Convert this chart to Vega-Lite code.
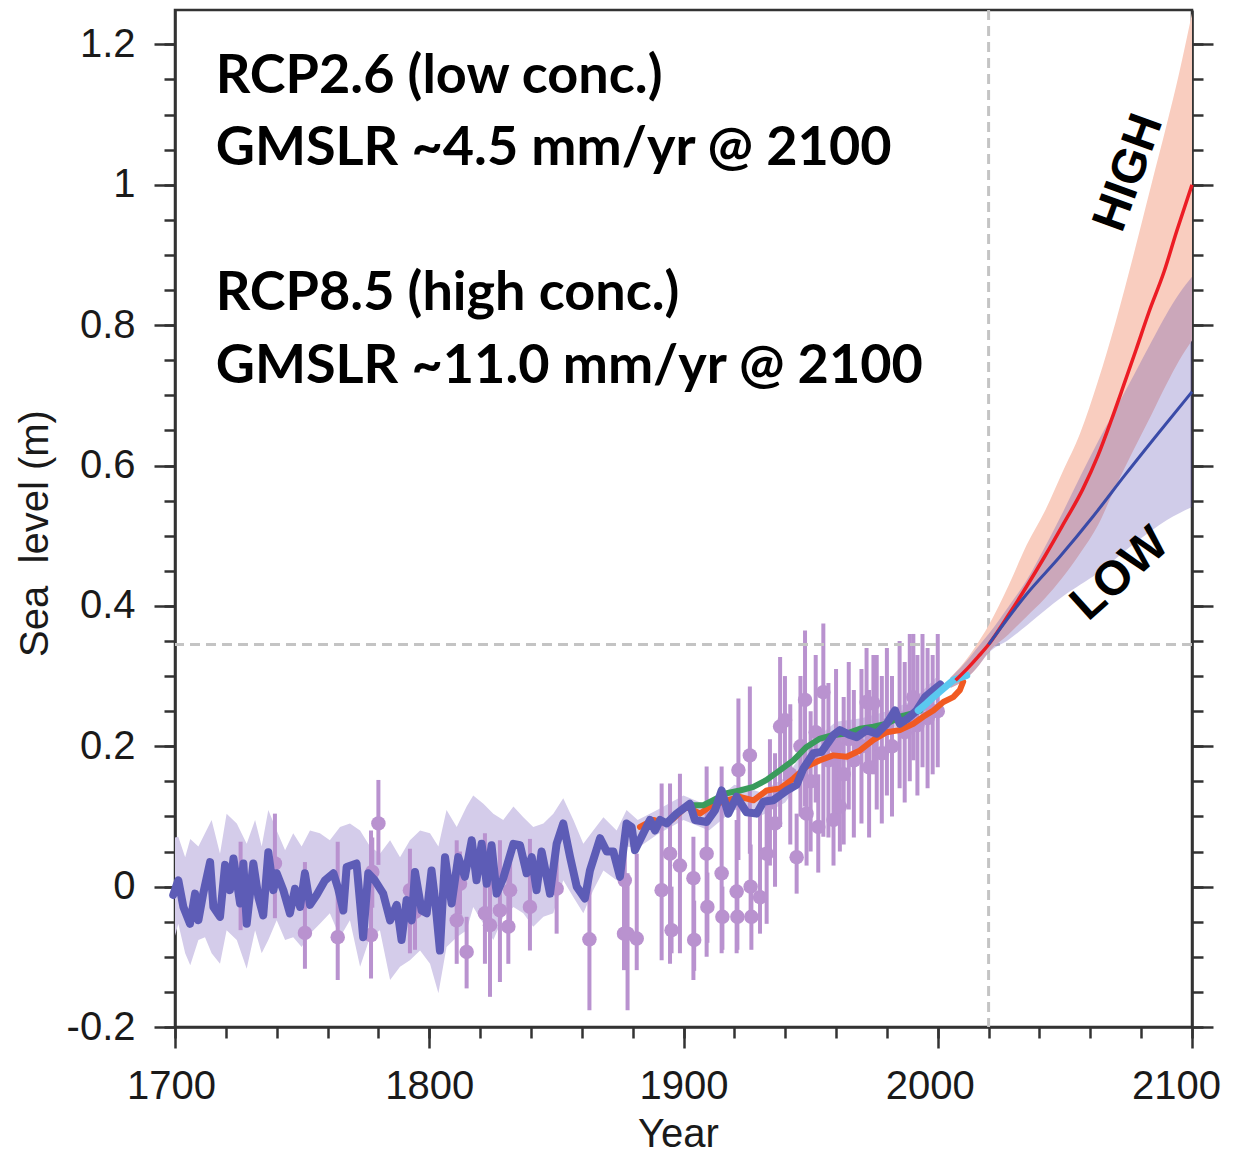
{
  "$schema": "https://vega.github.io/schema/vega-lite/v6.json",
  "autosize": {"type": "none"},
  "width": 1017,
  "height": 1017,
  "padding": {"left": 175, "top": 10, "right": 41, "bottom": 127},
  "background": "white",
  "config": {
    "view": {"stroke": "#333333", "strokeWidth": 2.5},
    "axis": {
      "grid": false, "domainColor": "#333333", "domainWidth": 2.6, "tickColor": "#333333", "tickWidth": 2.5,
      "labelFont": "Liberation Sans", "labelFontSize": 40, "labelColor": "#1a1a1a",
      "titleFont": "Liberation Sans", "titleFontSize": 40, "titleFontWeight": "normal", "titleColor": "#1a1a1a",
      "labelFlush": false, "labelOverlap": false, "labelBound": false
    }
  },
  "datasets": {
    "band": [
      {"year": 1700, "lo": -0.07, "hi": 0.07},
      {"year": 1701.3, "lo": -0.053, "hi": 0.071},
      {"year": 1704, "lo": -0.095, "hi": 0.042},
      {"year": 1706, "lo": -0.112, "hi": 0.068},
      {"year": 1709.2, "lo": -0.076, "hi": 0.057},
      {"year": 1711.8, "lo": -0.072, "hi": 0.076},
      {"year": 1714.4, "lo": -0.095, "hi": 0.095},
      {"year": 1717.7, "lo": -0.11, "hi": 0.047},
      {"year": 1720.3, "lo": -0.062, "hi": 0.104},
      {"year": 1724.3, "lo": -0.076, "hi": 0.09},
      {"year": 1728.2, "lo": -0.117, "hi": 0.061},
      {"year": 1731.5, "lo": -0.062, "hi": 0.095},
      {"year": 1734.1, "lo": -0.095, "hi": 0.057},
      {"year": 1736.7, "lo": -0.076, "hi": 0.109},
      {"year": 1740, "lo": -0.048, "hi": 0.08},
      {"year": 1743.3, "lo": -0.076, "hi": 0.052},
      {"year": 1746.5, "lo": -0.072, "hi": 0.076},
      {"year": 1749.8, "lo": -0.086, "hi": 0.057},
      {"year": 1753.1, "lo": -0.067, "hi": 0.08},
      {"year": 1757, "lo": -0.053, "hi": 0.076},
      {"year": 1760.9, "lo": -0.038, "hi": 0.066},
      {"year": 1764.9, "lo": -0.072, "hi": 0.085},
      {"year": 1768.8, "lo": -0.048, "hi": 0.09},
      {"year": 1772.8, "lo": -0.114, "hi": 0.08},
      {"year": 1776.7, "lo": -0.072, "hi": 0.057},
      {"year": 1780.6, "lo": -0.062, "hi": 0.047},
      {"year": 1784.6, "lo": -0.133, "hi": 0.066},
      {"year": 1788.5, "lo": -0.114, "hi": 0.042},
      {"year": 1792.4, "lo": -0.105, "hi": 0.066},
      {"year": 1796.4, "lo": -0.091, "hi": 0.08},
      {"year": 1800.3, "lo": -0.11, "hi": 0.076},
      {"year": 1803.6, "lo": -0.152, "hi": 0.057},
      {"year": 1806.8, "lo": -0.086, "hi": 0.109},
      {"year": 1810.8, "lo": -0.072, "hi": 0.085},
      {"year": 1814.7, "lo": -0.062, "hi": 0.114},
      {"year": 1817.3, "lo": -0.029, "hi": 0.13},
      {"year": 1821.3, "lo": -0.053, "hi": 0.118},
      {"year": 1825.2, "lo": -0.076, "hi": 0.104},
      {"year": 1829.1, "lo": -0.043, "hi": 0.095},
      {"year": 1833.1, "lo": -0.029, "hi": 0.114},
      {"year": 1837, "lo": -0.038, "hi": 0.099},
      {"year": 1840.9, "lo": -0.057, "hi": 0.085},
      {"year": 1844.9, "lo": -0.043, "hi": 0.09},
      {"year": 1848.8, "lo": -0.038, "hi": 0.104},
      {"year": 1852.7, "lo": 0.009, "hi": 0.126},
      {"year": 1856.7, "lo": -0.015, "hi": 0.095},
      {"year": 1860.6, "lo": -0.038, "hi": 0.061},
      {"year": 1864.5, "lo": -0.005, "hi": 0.08},
      {"year": 1868.5, "lo": 0.023, "hi": 0.099},
      {"year": 1873.7, "lo": 0.009, "hi": 0.08},
      {"year": 1877.6, "lo": 0.057, "hi": 0.109},
      {"year": 1882, "lo": 0.055, "hi": 0.095},
      {"year": 1890, "lo": 0.075, "hi": 0.11},
      {"year": 1900, "lo": 0.095, "hi": 0.13},
      {"year": 1910, "lo": 0.08, "hi": 0.115},
      {"year": 1920, "lo": 0.11, "hi": 0.145},
      {"year": 1930, "lo": 0.1, "hi": 0.135},
      {"year": 1940, "lo": 0.12, "hi": 0.155},
      {"year": 1950, "lo": 0.17, "hi": 0.205},
      {"year": 1960, "lo": 0.2, "hi": 0.235},
      {"year": 1970, "lo": 0.205, "hi": 0.24},
      {"year": 1980, "lo": 0.215, "hi": 0.25},
      {"year": 1990, "lo": 0.235, "hi": 0.265},
      {"year": 2000, "lo": 0.27, "hi": 0.3}
    ],
    "tg": [
      {"year": 1725.8, "v": 0.009, "lo": -0.062, "hi": 0.064},
      {"year": 1739.3, "v": 0.033, "lo": -0.045, "hi": 0.104},
      {"year": 1751.1, "v": -0.066, "lo": -0.117, "hi": 0.035},
      {"year": 1764.0, "v": -0.072, "lo": -0.133, "hi": 0.064},
      {"year": 1777.1, "v": -0.069, "lo": -0.131, "hi": 0.08},
      {"year": 1777.6, "v": 0.021, "lo": -0.03, "hi": 0.07},
      {"year": 1780.0, "v": 0.09, "lo": 0.031, "hi": 0.152},
      {"year": 1792.4, "v": -0.005, "lo": -0.095, "hi": 0.054},
      {"year": 1794.4, "v": -0.036, "lo": -0.09, "hi": 0.02},
      {"year": 1810.8, "v": -0.048, "lo": -0.11, "hi": 0.066},
      {"year": 1812.1, "v": 0.004, "lo": -0.04, "hi": 0.05},
      {"year": 1814.7, "v": -0.093, "lo": -0.145, "hi": -0.043},
      {"year": 1821.9, "v": -0.038, "lo": -0.11, "hi": 0.076},
      {"year": 1823.9, "v": -0.055, "lo": -0.157, "hi": 0.019},
      {"year": 1827.8, "v": -0.034, "lo": -0.136, "hi": 0.066},
      {"year": 1831.1, "v": -0.057, "lo": -0.11, "hi": 0.045},
      {"year": 1831.8, "v": -0.005, "lo": -0.05, "hi": 0.04},
      {"year": 1839.6, "v": -0.029, "lo": -0.091, "hi": 0.068},
      {"year": 1850.1, "v": -0.003, "lo": -0.067, "hi": 0.057},
      {"year": 1863.0, "v": -0.075, "lo": -0.176, "hi": 0.014},
      {"year": 1876.6, "v": -0.067, "lo": -0.119, "hi": 0.009},
      {"year": 1876.9, "v": 0.009, "lo": -0.06, "hi": 0.071},
      {"year": 1878.0, "v": -0.067, "lo": -0.176, "hi": 0.019},
      {"year": 1881.6, "v": -0.074, "lo": -0.119, "hi": 0.047},
      {"year": 1891.4, "v": -0.005, "lo": -0.105, "hi": 0.147},
      {"year": 1894.7, "v": 0.047, "lo": -0.11, "hi": 0.147},
      {"year": 1895.3, "v": -0.062, "lo": -0.095, "hi": 0.0},
      {"year": 1898.6, "v": 0.03, "lo": -0.095, "hi": 0.161},
      {"year": 1903.9, "v": 0.012, "lo": -0.133, "hi": 0.071},
      {"year": 1904.2, "v": -0.076, "lo": -0.12, "hi": -0.02},
      {"year": 1909.1, "v": 0.047, "lo": -0.1, "hi": 0.171},
      {"year": 1909.4, "v": -0.029, "lo": -0.08, "hi": 0.02},
      {"year": 1915.0, "v": 0.019, "lo": -0.095, "hi": 0.171},
      {"year": 1915.3, "v": -0.043, "lo": -0.09, "hi": 0.0},
      {"year": 1920.9, "v": -0.007, "lo": -0.095, "hi": 0.095},
      {"year": 1921.2, "v": -0.043, "lo": -0.09, "hi": 0.0},
      {"year": 1921.6, "v": 0.166, "lo": 0.038, "hi": 0.268},
      {"year": 1926.1, "v": 0.187, "lo": 0.047, "hi": 0.285},
      {"year": 1926.4, "v": 0.0, "lo": -0.05, "hi": 0.06},
      {"year": 1926.7, "v": -0.043, "lo": -0.09, "hi": 0.0},
      {"year": 1930.1, "v": -0.015, "lo": -0.067, "hi": 0.114},
      {"year": 1932.7, "v": 0.047, "lo": -0.053, "hi": 0.114},
      {"year": 1934, "v": 0.12, "lo": 0.03, "hi": 0.21},
      {"year": 1936, "v": 0.09, "lo": 0.0, "hi": 0.19},
      {"year": 1938.0, "v": 0.228, "lo": 0.085, "hi": 0.327},
      {"year": 1939.9, "v": 0.237, "lo": 0.15, "hi": 0.3},
      {"year": 1942, "v": 0.16, "lo": 0.06, "hi": 0.26},
      {"year": 1944.5, "v": 0.042, "lo": -0.01, "hi": 0.104},
      {"year": 1946, "v": 0.2, "lo": 0.1, "hi": 0.3},
      {"year": 1947.8, "v": 0.266, "lo": 0.114, "hi": 0.365},
      {"year": 1948.4, "v": 0.104, "lo": 0.03, "hi": 0.18},
      {"year": 1950, "v": 0.15, "lo": 0.05, "hi": 0.25},
      {"year": 1952, "v": 0.22, "lo": 0.12, "hi": 0.33},
      {"year": 1953.0, "v": 0.085, "lo": 0.02, "hi": 0.16},
      {"year": 1955.0, "v": 0.277, "lo": 0.071, "hi": 0.375},
      {"year": 1957, "v": 0.18, "lo": 0.07, "hi": 0.29},
      {"year": 1959.0, "v": 0.095, "lo": 0.03, "hi": 0.2},
      {"year": 1960, "v": 0.2, "lo": 0.1, "hi": 0.31},
      {"year": 1961.5, "v": 0.114, "lo": 0.05, "hi": 0.22},
      {"year": 1963, "v": 0.16, "lo": 0.06, "hi": 0.27},
      {"year": 1965, "v": 0.21, "lo": 0.11, "hi": 0.32},
      {"year": 1967, "v": 0.18, "lo": 0.07, "hi": 0.28},
      {"year": 1970, "v": 0.2, "lo": 0.09, "hi": 0.31},
      {"year": 1972.0, "v": 0.263, "lo": 0.17, "hi": 0.34},
      {"year": 1973, "v": 0.17, "lo": 0.07, "hi": 0.28},
      {"year": 1974.7, "v": 0.261, "lo": 0.16, "hi": 0.33},
      {"year": 1976, "v": 0.22, "lo": 0.11, "hi": 0.33},
      {"year": 1978, "v": 0.19, "lo": 0.09, "hi": 0.3},
      {"year": 1980, "v": 0.23, "lo": 0.13, "hi": 0.34},
      {"year": 1982, "v": 0.2, "lo": 0.1, "hi": 0.3},
      {"year": 1985, "v": 0.24, "lo": 0.14, "hi": 0.35},
      {"year": 1987, "v": 0.22, "lo": 0.12, "hi": 0.32},
      {"year": 1989, "v": 0.25, "lo": 0.15, "hi": 0.36},
      {"year": 1990.4, "v": 0.27, "lo": 0.18, "hi": 0.36},
      {"year": 1992, "v": 0.23, "lo": 0.13, "hi": 0.33},
      {"year": 1994, "v": 0.26, "lo": 0.17, "hi": 0.36},
      {"year": 1996, "v": 0.24, "lo": 0.14, "hi": 0.34},
      {"year": 1998, "v": 0.25, "lo": 0.16, "hi": 0.33},
      {"year": 2000, "v": 0.25, "lo": 0.17, "hi": 0.36}
    ],
    "recon": [
      {"year": 1699.3, "v": -0.012}, {"year": 1701.3, "v": 0.009}, {"year": 1703.3, "v": -0.029}, {"year": 1705.9, "v": -0.053},
      {"year": 1707.9, "v": -0.01}, {"year": 1709.2, "v": -0.048}, {"year": 1711.1, "v": -0.01}, {"year": 1713.8, "v": 0.035},
      {"year": 1715.1, "v": -0.029}, {"year": 1717.7, "v": -0.043}, {"year": 1719.7, "v": 0.031}, {"year": 1721.6, "v": -0.005},
      {"year": 1723, "v": 0.04}, {"year": 1725.6, "v": -0.024}, {"year": 1726.9, "v": 0.033}, {"year": 1728.2, "v": -0.053},
      {"year": 1730.8, "v": 0.033}, {"year": 1732.8, "v": -0.015}, {"year": 1734.7, "v": -0.041}, {"year": 1736.7, "v": 0.049},
      {"year": 1738.7, "v": -0.005}, {"year": 1740, "v": 0.019}, {"year": 1742.6, "v": -0.005}, {"year": 1745.2, "v": -0.038},
      {"year": 1747.2, "v": -0.003}, {"year": 1749.2, "v": -0.029}, {"year": 1751.1, "v": 0.019}, {"year": 1753.1, "v": -0.026},
      {"year": 1755.7, "v": -0.012}, {"year": 1759, "v": 0.009}, {"year": 1762.3, "v": 0.019}, {"year": 1764.2, "v": -0.003},
      {"year": 1766.2, "v": -0.034}, {"year": 1767.5, "v": 0.028}, {"year": 1771.4, "v": 0.033}, {"year": 1774, "v": -0.072},
      {"year": 1776, "v": 0.019}, {"year": 1778.6, "v": 0.009}, {"year": 1781.9, "v": -0.01}, {"year": 1784.6, "v": -0.048},
      {"year": 1787.2, "v": -0.026}, {"year": 1789.1, "v": -0.076}, {"year": 1791.1, "v": -0.019}, {"year": 1793.1, "v": -0.048},
      {"year": 1794.4, "v": 0.021}, {"year": 1797, "v": -0.034}, {"year": 1799, "v": -0.038}, {"year": 1800.9, "v": 0.023},
      {"year": 1802.3, "v": -0.019}, {"year": 1804.2, "v": -0.091}, {"year": 1806.2, "v": 0.042}, {"year": 1808.8, "v": -0.024},
      {"year": 1811.4, "v": 0.042}, {"year": 1814, "v": 0.014}, {"year": 1816.7, "v": 0.066}, {"year": 1818.6, "v": 0.009},
      {"year": 1820.6, "v": 0.061}, {"year": 1822.6, "v": 0.004}, {"year": 1824.5, "v": 0.059}, {"year": 1826.5, "v": -0.01},
      {"year": 1829.1, "v": 0.012}, {"year": 1833.1, "v": 0.061}, {"year": 1835.7, "v": 0.059}, {"year": 1838.3, "v": 0.019},
      {"year": 1840.3, "v": 0.042}, {"year": 1842.2, "v": -0.005}, {"year": 1844.2, "v": 0.05}, {"year": 1847.5, "v": -0.01},
      {"year": 1850.1, "v": 0.061}, {"year": 1852.7, "v": 0.09}, {"year": 1855.4, "v": 0.042}, {"year": 1858, "v": 0.0},
      {"year": 1861.2, "v": -0.017}, {"year": 1863.2, "v": 0.023}, {"year": 1867.2, "v": 0.069}, {"year": 1869.8, "v": 0.05},
      {"year": 1872.4, "v": 0.05}, {"year": 1875, "v": 0.014}, {"year": 1877.6, "v": 0.09}, {"year": 1879.6, "v": 0.085},
      {"year": 1880.9, "v": 0.052}, {"year": 1884.2, "v": 0.076}, {"year": 1886.8, "v": 0.095}, {"year": 1888.8, "v": 0.08},
      {"year": 1890.8, "v": 0.095}, {"year": 1893.4, "v": 0.09}, {"year": 1897.3, "v": 0.104}, {"year": 1902.5, "v": 0.118},
      {"year": 1904.5, "v": 0.095}, {"year": 1909.1, "v": 0.092}, {"year": 1912.4, "v": 0.109}, {"year": 1915, "v": 0.137},
      {"year": 1917.6, "v": 0.104}, {"year": 1920.9, "v": 0.128}, {"year": 1924.8, "v": 0.106}, {"year": 1928.8, "v": 0.104},
      {"year": 1931.4, "v": 0.121}, {"year": 1935.3, "v": 0.123}, {"year": 1940.6, "v": 0.137}, {"year": 1944.5, "v": 0.145},
      {"year": 1947.1, "v": 0.168}, {"year": 1951.1, "v": 0.19}, {"year": 1954.3, "v": 0.192}, {"year": 1959, "v": 0.216},
      {"year": 1961.5, "v": 0.223}, {"year": 1965.5, "v": 0.216}, {"year": 1968.1, "v": 0.213}, {"year": 1972, "v": 0.223},
      {"year": 1976, "v": 0.218}, {"year": 1979.9, "v": 0.232}, {"year": 1983.2, "v": 0.251}, {"year": 1985.1, "v": 0.232},
      {"year": 1988.4, "v": 0.24}, {"year": 1991.7, "v": 0.251}, {"year": 1995, "v": 0.27}, {"year": 1998.3, "v": 0.28},
      {"year": 2001, "v": 0.288}
    ],
    "orange": [
      {"year": 1882.9, "v": 0.085}, {"year": 1888.1, "v": 0.095}, {"year": 1893.4, "v": 0.09}, {"year": 1896, "v": 0.097},
      {"year": 1901.2, "v": 0.114}, {"year": 1906.5, "v": 0.104}, {"year": 1910.4, "v": 0.114}, {"year": 1917, "v": 0.123},
      {"year": 1922.2, "v": 0.128}, {"year": 1927.5, "v": 0.123}, {"year": 1932.7, "v": 0.137}, {"year": 1938, "v": 0.14},
      {"year": 1943.2, "v": 0.154}, {"year": 1948.4, "v": 0.171}, {"year": 1953.7, "v": 0.18}, {"year": 1958.9, "v": 0.187},
      {"year": 1964.2, "v": 0.185}, {"year": 1969.4, "v": 0.194}, {"year": 1974.7, "v": 0.209}, {"year": 1979.9, "v": 0.22},
      {"year": 1985.1, "v": 0.223}, {"year": 1990.4, "v": 0.232}, {"year": 1994.3, "v": 0.242}, {"year": 1998.3, "v": 0.251},
      {"year": 2002.2, "v": 0.263}, {"year": 2006.1, "v": 0.27}, {"year": 2008.7, "v": 0.28}, {"year": 2010, "v": 0.292}
    ],
    "green": [
      {"year": 1902.5, "v": 0.116}, {"year": 1907.8, "v": 0.116}, {"year": 1911.7, "v": 0.123}, {"year": 1917, "v": 0.133},
      {"year": 1922.2, "v": 0.137}, {"year": 1927.5, "v": 0.142}, {"year": 1932.7, "v": 0.152}, {"year": 1938, "v": 0.166},
      {"year": 1943.2, "v": 0.18}, {"year": 1948.4, "v": 0.199}, {"year": 1953.7, "v": 0.211}, {"year": 1959, "v": 0.216},
      {"year": 1964.2, "v": 0.218}, {"year": 1969.4, "v": 0.225}, {"year": 1974.7, "v": 0.228}, {"year": 1979.9, "v": 0.232},
      {"year": 1985.1, "v": 0.242}, {"year": 1990.4, "v": 0.247}, {"year": 1993, "v": 0.251}
    ],
    "cyan": [
      {"year": 1992.3, "v": 0.251}, {"year": 1995.6, "v": 0.261}, {"year": 1998.3, "v": 0.27}, {"year": 2002.2, "v": 0.282},
      {"year": 2006.1, "v": 0.294}, {"year": 2011.4, "v": 0.301}
    ],
    "redband": [
      {"year": 2005, "lo": 0.283, "hi": 0.298}, {"year": 2010, "lo": 0.293, "hi": 0.318}, {"year": 2015, "lo": 0.31, "hi": 0.343},
      {"year": 2020, "lo": 0.334, "hi": 0.372}, {"year": 2028, "lo": 0.36, "hi": 0.43}, {"year": 2035, "lo": 0.385, "hi": 0.487},
      {"year": 2042, "lo": 0.41, "hi": 0.534}, {"year": 2049, "lo": 0.44, "hi": 0.59}, {"year": 2056, "lo": 0.475, "hi": 0.646},
      {"year": 2063, "lo": 0.515, "hi": 0.72}, {"year": 2070, "lo": 0.57, "hi": 0.805}, {"year": 2077, "lo": 0.622, "hi": 0.9},
      {"year": 2084, "lo": 0.672, "hi": 1.0}, {"year": 2090, "lo": 0.716, "hi": 1.085}, {"year": 2095, "lo": 0.75, "hi": 1.16},
      {"year": 2100, "lo": 0.778, "hi": 1.244}
    ],
    "blueband": [
      {"year": 2005, "lo": 0.283, "hi": 0.298}, {"year": 2010, "lo": 0.293, "hi": 0.316}, {"year": 2015, "lo": 0.31, "hi": 0.338},
      {"year": 2020, "lo": 0.333, "hi": 0.36}, {"year": 2028, "lo": 0.352, "hi": 0.4}, {"year": 2035, "lo": 0.372, "hi": 0.437},
      {"year": 2042, "lo": 0.393, "hi": 0.483}, {"year": 2049, "lo": 0.413, "hi": 0.532}, {"year": 2056, "lo": 0.43, "hi": 0.584},
      {"year": 2063, "lo": 0.447, "hi": 0.634}, {"year": 2070, "lo": 0.467, "hi": 0.681}, {"year": 2077, "lo": 0.488, "hi": 0.728},
      {"year": 2084, "lo": 0.507, "hi": 0.776}, {"year": 2090, "lo": 0.522, "hi": 0.816}, {"year": 2095, "lo": 0.532, "hi": 0.845},
      {"year": 2100, "lo": 0.541, "hi": 0.869}
    ],
    "redline": [
      {"year": 2007, "v": 0.294}, {"year": 2012, "v": 0.312}, {"year": 2016, "v": 0.328}, {"year": 2020, "v": 0.345},
      {"year": 2028, "v": 0.388}, {"year": 2035, "v": 0.428}, {"year": 2042, "v": 0.47}, {"year": 2049, "v": 0.514},
      {"year": 2057, "v": 0.566}, {"year": 2063, "v": 0.614}, {"year": 2068, "v": 0.662}, {"year": 2073, "v": 0.713},
      {"year": 2078, "v": 0.765}, {"year": 2083, "v": 0.818}, {"year": 2089, "v": 0.876}, {"year": 2094, "v": 0.934},
      {"year": 2100, "v": 1.0}
    ],
    "blueline": [
      {"year": 2020, "v": 0.345}, {"year": 2035, "v": 0.417}, {"year": 2048, "v": 0.47}, {"year": 2061, "v": 0.527},
      {"year": 2074, "v": 0.588}, {"year": 2087, "v": 0.647}, {"year": 2100, "v": 0.705}
    ],
    "hline": [{"v": 0.345}],
    "vline": [{"year": 2020}],
    "notes": [
      {"year": 1716, "v": 1.1302, "t": "RCP2.6 (low conc.)"},
      {"year": 1716, "v": 1.028, "t": "GMSLR ~4.5 mm/yr @ 2100"},
      {"year": 1716, "v": 0.8215, "t": "RCP8.5 (high conc.)"},
      {"year": 1716, "v": 0.717, "t": "GMSLR ~11.0 mm/yr @ 2100"}
    ],
    "high": [{"year": 2075.3, "v": 1.017, "t": "HIGH"}],
    "low": [{"year": 2071.8, "v": 0.445, "t": "LOW"}]
  },
  "resolve": {"axis": {"x": "independent", "y": "independent"}},
  "layer": [
    {
      "data": {"name": "band"},
      "mark": {"type": "area", "color": "#d4ccea", "opacity": 1},
      "encoding": {
        "x": {"field": "year", "type": "quantitative", "scale": {"domain": [1700, 2100], "nice": false, "zero": false},
          "axis": {"orient": "bottom", "values": [1700, 1800, 1900, 2000, 2100], "tickSize": 21, "format": "d", "labelPadding": 50, "labelBaseline": "alphabetic",
            "labelOffset": {"condition": [{"test": "datum.value == 2100", "value": -16}, {"test": "datum.value == 2000", "value": -8}, {"test": "datum.value == 1700", "value": -4}], "value": 0},
            "title": "Year", "titleX": 503, "titleY": 119, "titleBaseline": "alphabetic", "titleAlign": "center"}},
        "y": {"field": "lo", "type": "quantitative", "scale": {"domain": [-0.2, 1.249], "nice": false, "zero": false},
          "axis": {"orient": "left", "values": [-0.2, 0, 0.2, 0.4, 0.6, 0.8, 1, 1.2], "tickSize": 21, "labelPadding": 19,
            "labelExpr": "toString(round(datum.value*10)/10)", "title": "Sea\u00a0 level (m)", "titleX": -128, "titleY": 523, "titleAngle": -90, "titleAlign": "center", "titleBaseline": "alphabetic"}},
        "y2": {"field": "hi"}
      }
    },
    {
      "data": {"name": "tg"},
      "mark": {"type": "rule", "color": "#b992cf", "strokeWidth": 4},
      "encoding": {
        "x": {"field": "year", "type": "quantitative", "scale": {"domain": [1700, 2100], "nice": false, "zero": false},
          "axis": {"orient": "bottom", "values": [1700, 1720, 1740, 1760, 1780, 1800, 1820, 1840, 1860, 1880, 1900, 1920, 1940, 1960, 1980, 2000, 2020, 2040, 2060, 2080, 2100], "tickSize": 11, "labels": false, "domain": false, "title": null}},
        "y": {"field": "lo", "type": "quantitative", "scale": {"domain": [-0.2, 1.249], "nice": false, "zero": false},
          "axis": {"orient": "left", "values": [-0.2, -0.15, -0.1, -0.05, 0, 0.05, 0.1, 0.15, 0.2, 0.25, 0.3, 0.35, 0.4, 0.45, 0.5, 0.55, 0.6, 0.65, 0.7, 0.75, 0.8, 0.85, 0.9, 0.95, 1, 1.05, 1.1, 1.15, 1.2], "tickSize": 11, "labels": false, "domain": false, "title": null}},
        "y2": {"field": "hi"}
      }
    },
    {
      "data": {"name": "tg"},
      "mark": {"type": "circle", "color": "#b992cf", "opacity": 1, "size": 210},
      "encoding": {
        "x": {"field": "year", "type": "quantitative", "scale": {"domain": [1700, 2100], "nice": false, "zero": false}, "axis": null},
        "y": {"field": "v", "type": "quantitative", "scale": {"domain": [-0.2, 1.249], "nice": false, "zero": false},
          "axis": {"orient": "right", "values": [-0.2, 0, 0.2, 0.4, 0.6, 0.8, 1, 1.2], "tickSize": 21, "labels": false, "title": null}}
      }
    },
    {
      "data": {"name": "hline"},
      "mark": {"type": "rule", "color": "#c4c4c4", "strokeWidth": 3, "strokeDash": [10, 6]},
      "encoding": {"y": {"field": "v", "type": "quantitative", "scale": {"domain": [-0.2, 1.249], "nice": false, "zero": false}, "axis": null}}
    },
    {
      "data": {"name": "vline"},
      "mark": {"type": "rule", "color": "#c4c4c4", "strokeWidth": 3, "strokeDash": [10, 6]},
      "encoding": {"x": {"field": "year", "type": "quantitative", "scale": {"domain": [1700, 2100], "nice": false, "zero": false}, "axis": null}}
    },
    {
      "data": {"name": "redband"},
      "mark": {"type": "area", "color": "#f9cdbf", "opacity": 1, "interpolate": "monotone"},
      "encoding": {
        "x": {"field": "year", "type": "quantitative", "scale": {"domain": [1700, 2100], "nice": false, "zero": false}, "axis": null},
        "y": {"field": "lo", "type": "quantitative", "scale": {"domain": [-0.2, 1.249], "nice": false, "zero": false}, "axis": null},
        "y2": {"field": "hi"}
      }
    },
    {
      "data": {"name": "blueband"},
      "mark": {"type": "area", "color": "#5142ad", "opacity": 0.27, "interpolate": "monotone"},
      "encoding": {
        "x": {"field": "year", "type": "quantitative", "scale": {"domain": [1700, 2100], "nice": false, "zero": false}, "axis": null},
        "y": {"field": "lo", "type": "quantitative", "scale": {"domain": [-0.2, 1.249], "nice": false, "zero": false}, "axis": null},
        "y2": {"field": "hi"}
      }
    },
    {
      "data": {"name": "orange"},
      "mark": {"type": "line", "color": "#f15a22", "strokeWidth": 6, "strokeJoin": "round", "strokeCap": "round"},
      "encoding": {
        "x": {"field": "year", "type": "quantitative", "scale": {"domain": [1700, 2100], "nice": false, "zero": false}, "axis": null},
        "y": {"field": "v", "type": "quantitative", "scale": {"domain": [-0.2, 1.249], "nice": false, "zero": false},
          "axis": {"orient": "right", "values": [-0.2, -0.15, -0.1, -0.05, 0, 0.05, 0.1, 0.15, 0.2, 0.25, 0.3, 0.35, 0.4, 0.45, 0.5, 0.55, 0.6, 0.65, 0.7, 0.75, 0.8, 0.85, 0.9, 0.95, 1, 1.05, 1.1, 1.15, 1.2], "tickSize": 11, "labels": false, "domain": false, "title": null}}
      }
    },
    {
      "data": {"name": "green"},
      "mark": {"type": "line", "color": "#3a9b5c", "strokeWidth": 6, "strokeJoin": "round", "strokeCap": "round"},
      "encoding": {
        "x": {"field": "year", "type": "quantitative", "scale": {"domain": [1700, 2100], "nice": false, "zero": false}, "axis": null},
        "y": {"field": "v", "type": "quantitative", "scale": {"domain": [-0.2, 1.249], "nice": false, "zero": false}, "axis": null}
      }
    },
    {
      "data": {"name": "recon"},
      "mark": {"type": "line", "color": "#5d5cb6", "strokeWidth": 8, "strokeJoin": "round", "strokeCap": "round"},
      "encoding": {
        "x": {"field": "year", "type": "quantitative", "scale": {"domain": [1700, 2100], "nice": false, "zero": false}, "axis": null},
        "y": {"field": "v", "type": "quantitative", "scale": {"domain": [-0.2, 1.249], "nice": false, "zero": false}, "axis": null}
      }
    },
    {
      "data": {"name": "cyan"},
      "mark": {"type": "line", "color": "#5bc8f0", "strokeWidth": 7, "strokeJoin": "round", "strokeCap": "round"},
      "encoding": {
        "x": {"field": "year", "type": "quantitative", "scale": {"domain": [1700, 2100], "nice": false, "zero": false}, "axis": null},
        "y": {"field": "v", "type": "quantitative", "scale": {"domain": [-0.2, 1.249], "nice": false, "zero": false}, "axis": null}
      }
    },
    {
      "data": {"name": "redline"},
      "mark": {"type": "line", "color": "#ec1c24", "strokeWidth": 3.5, "strokeJoin": "round", "interpolate": "monotone"},
      "encoding": {
        "x": {"field": "year", "type": "quantitative", "scale": {"domain": [1700, 2100], "nice": false, "zero": false}, "axis": null},
        "y": {"field": "v", "type": "quantitative", "scale": {"domain": [-0.2, 1.249], "nice": false, "zero": false}, "axis": null}
      }
    },
    {
      "data": {"name": "blueline"},
      "mark": {"type": "line", "color": "#3a4ba8", "strokeWidth": 3, "strokeJoin": "round", "interpolate": "monotone"},
      "encoding": {
        "x": {"field": "year", "type": "quantitative", "scale": {"domain": [1700, 2100], "nice": false, "zero": false}, "axis": null},
        "y": {"field": "v", "type": "quantitative", "scale": {"domain": [-0.2, 1.249], "nice": false, "zero": false}, "axis": null}
      }
    },
    {
      "data": {"name": "notes"},
      "mark": {"type": "text", "font": "Lato", "fontWeight": "bold", "fontSize": 54, "align": "left", "baseline": "alphabetic", "color": "#000000"},
      "encoding": {
        "x": {"field": "year", "type": "quantitative", "scale": {"domain": [1700, 2100], "nice": false, "zero": false}, "axis": null},
        "y": {"field": "v", "type": "quantitative", "scale": {"domain": [-0.2, 1.249], "nice": false, "zero": false}, "axis": null},
        "text": {"field": "t"}
      }
    },
    {
      "data": {"name": "high"},
      "mark": {"type": "text", "font": "Liberation Sans", "fontWeight": "bold", "fontSize": 48, "align": "center", "baseline": "middle", "angle": -70, "color": "#000000"},
      "encoding": {
        "x": {"field": "year", "type": "quantitative", "scale": {"domain": [1700, 2100], "nice": false, "zero": false}, "axis": null},
        "y": {"field": "v", "type": "quantitative", "scale": {"domain": [-0.2, 1.249], "nice": false, "zero": false}, "axis": null},
        "text": {"field": "t"}
      }
    },
    {
      "data": {"name": "low"},
      "mark": {"type": "text", "font": "Liberation Sans", "fontWeight": "bold", "fontSize": 48, "align": "center", "baseline": "middle", "angle": -42, "color": "#000000"},
      "encoding": {
        "x": {"field": "year", "type": "quantitative", "scale": {"domain": [1700, 2100], "nice": false, "zero": false}, "axis": null},
        "y": {"field": "v", "type": "quantitative", "scale": {"domain": [-0.2, 1.249], "nice": false, "zero": false}, "axis": null},
        "text": {"field": "t"}
      }
    }
  ]
}
